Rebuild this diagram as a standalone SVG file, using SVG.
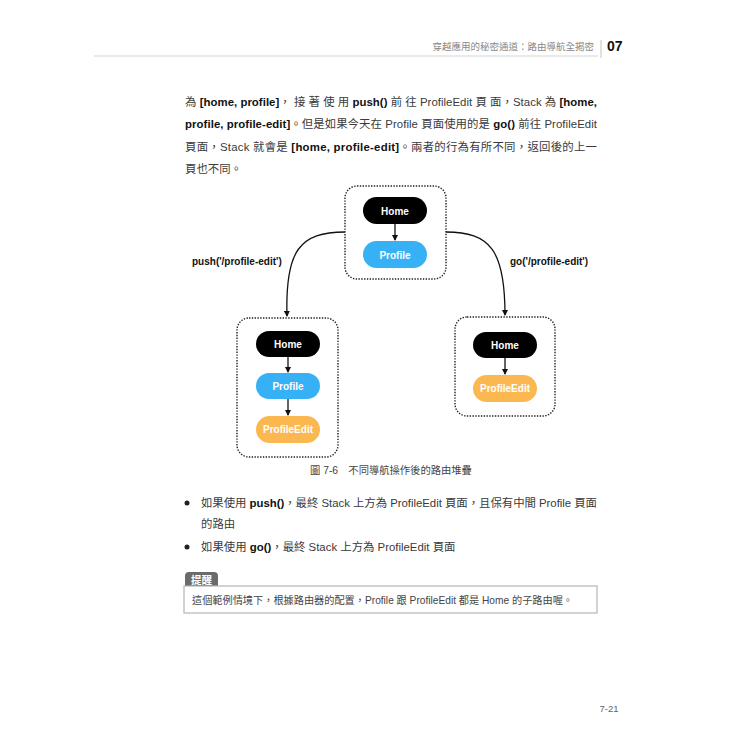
<svg xmlns="http://www.w3.org/2000/svg" width="750" height="750" viewBox="0 0 750 750">
<defs>
<style>
.t{font-family:"Liberation Sans","Noto Sans CJK TC",sans-serif;fill:#3a3a3a}
.b{font-weight:bold;fill:#111}
.body{font-size:11.4px}
.pill{font-family:"Liberation Sans",Arial,sans-serif;font-size:10px;font-weight:bold;fill:#fff;text-anchor:middle}
.lbl{font-family:"Liberation Sans",Arial,sans-serif;font-size:10px;font-weight:bold;fill:#111}
.box{fill:none;stroke:#222;stroke-width:1.4;stroke-dasharray:1.4 1.4}
.home{fill:#000}
.prof{fill:#36b1f6}
.edit{fill:#fbb851}
.edge{fill:none;stroke:#111;stroke-width:1.3}
</style>
<marker id="ah" markerWidth="6" markerHeight="6" refX="5" refY="3" orient="auto" markerUnits="userSpaceOnUse">
<path d="M0,0 L6,3 L0,6 Z" fill="#111"/>
</marker>
</defs>
<rect width="750" height="750" fill="#fff"/>

<!-- header -->
<g id="header">
<line x1="94" y1="56" x2="598" y2="56" stroke="#d5d5d5" stroke-width="1"/>
<line x1="601" y1="40" x2="601" y2="58" stroke="#c5c5c5" stroke-width="1"/>
<text class="t" x="594" y="50" font-size="9.5" style="fill:#888" text-anchor="end">穿越應用的秘密通道：路由導航全揭密</text>
<text class="t b" x="607" y="51" font-size="14">07</text>
</g>

<!-- paragraph -->
<g id="paragraph" class="t body">
<text x="185" y="106" textLength="412" lengthAdjust="spacing">為 <tspan class="b">[home, profile]</tspan>， 接 著 使 用 <tspan class="b">push()</tspan> 前 往 ProfileEdit 頁 面，Stack 為 <tspan class="b">[home,</tspan></text>
<text x="185" y="128" textLength="412" lengthAdjust="spacing"><tspan class="b">profile, profile-edit]</tspan>。但是如果今天在 Profile 頁面使用的是 <tspan class="b">go()</tspan> 前往 ProfileEdit</text>
<text x="185" y="151" textLength="412" lengthAdjust="spacing">頁面，Stack 就會是 <tspan class="b">[home, profile-edit]</tspan>。兩者的行為有所不同，返回後的上一</text>
<text x="185" y="173">頁也不同。</text>
</g>

<!-- connectors -->
<g id="connectors">
<path class="edge" d="M345,232 C300,232 285,250 287,316" marker-end="url(#ah)"/>
<path class="edge" d="M446,232 C490,232 505,250 505,315" marker-end="url(#ah)"/>
<line class="edge" x1="395" y1="224" x2="395" y2="240" marker-end="url(#ah)"/>
<line class="edge" x1="288" y1="357" x2="288" y2="372" marker-end="url(#ah)"/>
<line class="edge" x1="288" y1="399" x2="288" y2="415" marker-end="url(#ah)"/>
<line class="edge" x1="505" y1="358" x2="505" y2="374" marker-end="url(#ah)"/>
<text class="lbl" x="192" y="265">push('/profile-edit')</text>
<text class="lbl" x="510" y="265">go('/profile-edit')</text>
</g>

<!-- top stack -->
<g id="stack-start">
<rect class="box" x="345" y="186" width="101" height="93" rx="12"/>
<g id="start-home"><rect class="home" x="363" y="197" width="64" height="27" rx="13.5"/><text class="pill" x="395" y="214.5">Home</text></g>
<g id="start-profile"><rect class="prof" x="363" y="241" width="64" height="27" rx="13.5"/><text class="pill" x="395" y="258.5">Profile</text></g>
</g>

<!-- push stack -->
<g id="stack-push">
<rect class="box" x="237" y="318" width="101" height="139" rx="12"/>
<g id="push-home"><rect class="home" x="256" y="331" width="64" height="26" rx="13"/><text class="pill" x="288" y="347.5">Home</text></g>
<g id="push-profile"><rect class="prof" x="256" y="373" width="64" height="26" rx="13"/><text class="pill" x="288" y="389.5">Profile</text></g>
<g id="push-edit"><rect class="edit" x="256" y="416" width="64" height="27" rx="13.5"/><text class="pill" x="288" y="433">ProfileEdit</text></g>
</g>

<!-- go stack -->
<g id="stack-go">
<rect class="box" x="455" y="317" width="100" height="99" rx="12"/>
<g id="go-home"><rect class="home" x="473" y="332" width="64" height="26" rx="13"/><text class="pill" x="505" y="348.5">Home</text></g>
<g id="go-edit"><rect class="edit" x="473" y="375" width="64" height="27" rx="13.5"/><text class="pill" x="505" y="392">ProfileEdit</text></g>
</g>

<!-- caption -->
<text id="caption" class="t" x="310" y="474" font-size="10.3" style="fill:#444">圖 7-6　不同導航操作後的路由堆疊</text>

<!-- bullets -->
<g id="bullets" class="t body">
<circle cx="187" cy="503" r="2.5" fill="#222"/>
<text x="201" y="507" textLength="396" lengthAdjust="spacing">如果使用 <tspan class="b">push()</tspan>，最終 Stack 上方為 ProfileEdit 頁面，且保有中間 Profile 頁面</text>
<text x="201" y="527.5">的路由</text>
<circle cx="187" cy="547" r="2.5" fill="#222"/>
<text x="201" y="551">如果使用 <tspan class="b">go()</tspan>，最終 Stack 上方為 ProfileEdit 頁面</text>
</g>

<!-- note -->
<g id="note">
<path d="M185,586 L185,576 Q185,572 189,572 L214,572 Q218,572 218,576 L218,586 Z" fill="#6b6b6b"/>
<text class="t" x="201.5" y="583.5" font-size="10.5" font-weight="bold" text-anchor="middle" style="fill:#fff">提醒</text>
<rect x="184" y="586" width="413" height="27" fill="#fff" stroke="#b5b5b5" stroke-width="1.2"/>
<text class="t" x="192" y="603.5" font-size="10.3" textLength="381" lengthAdjust="spacingAndGlyphs" style="fill:#444">這個範例情境下，根據路由器的配置，Profile 跟 ProfileEdit 都是 Home 的子路由喔。</text>
</g>

<text id="page" class="t" x="609" y="712" font-size="9.5" text-anchor="middle" style="fill:#666">7-21</text>
</svg>
